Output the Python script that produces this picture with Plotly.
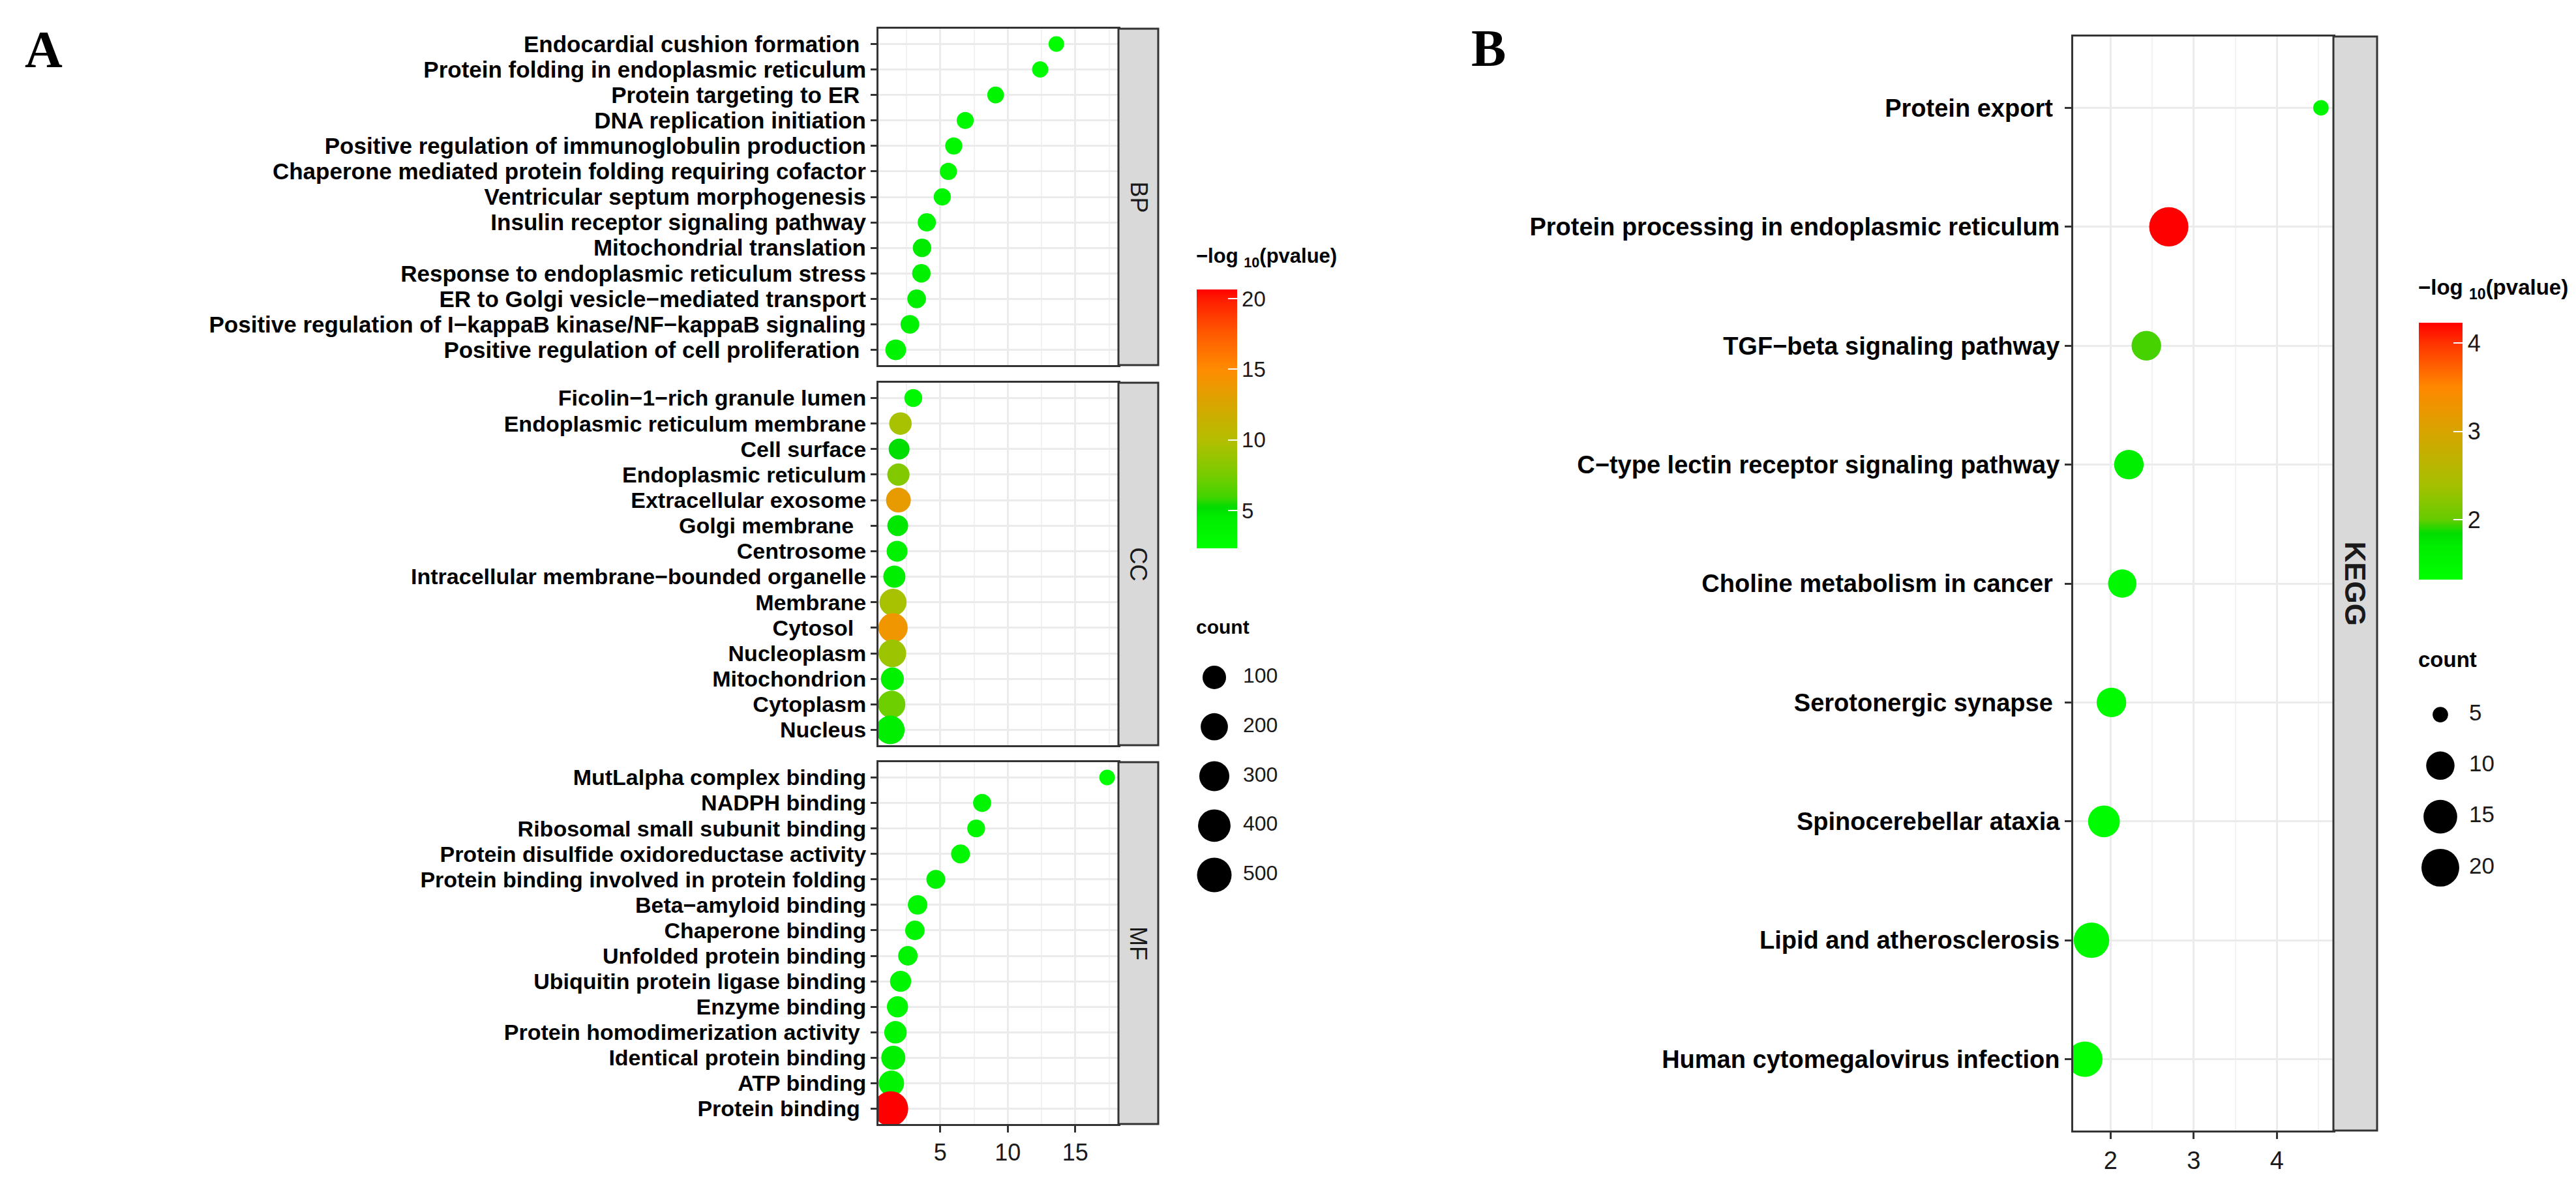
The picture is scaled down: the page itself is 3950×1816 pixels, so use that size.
import numpy as np
import plotly.graph_objects as go

W, H = 3950, 1816
FONT = "Liberation Sans, Arial, Helvetica, sans-serif"
SERIF = "Liberation Serif, Times New Roman, serif"
M = "\u2212"
NB = "\u00a0"

# ---------------- data ----------------
BP_terms = ["Endocardial cushion formation" + NB, "Protein folding in endoplasmic reticulum",
            "Protein targeting to ER" + NB, "DNA replication initiation",
            "Positive regulation of immunoglobulin production",
            "Chaperone mediated protein folding requiring cofactor",
            "Ventricular septum morphogenesis", "Insulin receptor signaling pathway",
            "Mitochondrial translation", "Response to endoplasmic reticulum stress",
            f"ER to Golgi vesicle{M}mediated transport",
            f"Positive regulation of I{M}kappaB kinase/NF{M}kappaB signaling",
            "Positive regulation of cell proliferation" + NB]
BP_x = [13.6, 12.4, 9.1, 6.85, 6.0, 5.6, 5.15, 4.0, 3.65, 3.6, 3.25, 2.75, 1.7]
BP_logp = [2.4, 3.0, 3.6, 3.2, 3.4, 3.3, 3.5, 3.6, 4.6, 4.3, 4.5, 4.0, 3.8]
BP_count = [3, 5, 7, 9, 10, 10, 10, 18, 20, 20, 22, 22, 48]

CC_terms = [f"Ficolin{M}1{M}rich granule lumen", "Endoplasmic reticulum membrane", "Cell surface",
            "Endoplasmic reticulum", "Extracellular exosome", "Golgi membrane" + NB + NB, "Centrosome",
            f"Intracellular membrane{M}bounded organelle", "Membrane", "Cytosol" + NB + NB,
            "Nucleoplasm", "Mitochondrion", "Cytoplasm", "Nucleus"]
CC_x = [3.0, 2.05, 1.95, 1.9, 1.9, 1.85, 1.8, 1.6, 1.5, 1.5, 1.45, 1.45, 1.4, 1.3]
CC_logp = [3.2, 9.5, 5.2, 8.0, 13.5, 4.8, 4.0, 4.5, 9.5, 14.0, 9.0, 4.0, 7.2, 4.5]
CC_count = [15, 79, 50, 75, 130, 50, 50, 73, 195, 273, 216, 90, 205, 249]

MF_terms = ["MutLalpha complex binding", "NADPH binding", "Ribosomal small subunit binding",
            "Protein disulfide oxidoreductase activity", "Protein binding involved in protein folding",
            f"Beta{M}amyloid binding", "Chaperone binding", "Unfolded protein binding",
            "Ubiquitin protein ligase binding", "Enzyme binding",
            "Protein homodimerization activity" + NB, "Identical protein binding", "ATP binding",
            "Protein binding" + NB]
MF_x = [17.36, 8.1, 7.66, 6.5, 4.67, 3.32, 3.12, 2.6, 2.06, 1.83, 1.68, 1.52, 1.38, 1.33]
MF_logp = [2.33, 3.5, 3.3, 3.4, 4.0, 3.3, 3.6, 3.8, 3.5, 3.4, 3.6, 4.2, 3.9, 20.65]
MF_count = [3, 17, 15, 24, 24, 31, 31, 31, 55, 55, 78, 113, 147, 520]

KEGG_terms = ["Protein export" + NB, "Protein processing in endoplasmic reticulum",
              f"TGF{M}beta signaling pathway", f"C{M}type lectin receptor signaling pathway",
              "Choline metabolism in cancer" + NB, "Serotonergic synapse" + NB,
              "Spinocerebellar ataxia", "Lipid and atherosclerosis", "Human cytomegalovirus infection"]
KEGG_x = [4.53, 2.70, 2.43, 2.22, 2.14, 2.01, 1.92, 1.77, 1.69]
KEGG_logp = [1.55, 4.23, 1.95, 1.7, 1.45, 1.4, 1.38, 1.5, 1.32]
KEGG_count = [5, 22, 11, 11, 10, 11, 13, 17, 17]

A_count_breaks = [100, 200, 300, 400, 500]
B_count_breaks = [5, 10, 15, 20]
A_color_ticks = [5, 10, 15, 20]
B_color_ticks = [2, 3, 4]
A_x_ticks = [5, 10, 15]
B_x_ticks = [2, 3, 4]


# ---------------- helpers ----------------
def fx(p):
    return p / W


def fy(p):
    return 1 - p / H


def size_A(c):
    c = np.asarray(c, dtype=float)
    return 22.5 + 32.3 * np.sqrt(np.clip((c - 2) / 558, 0, None))


def size_B(c):
    c = np.asarray(c, dtype=float)
    return 23.7 + 36.5 * np.sqrt(np.clip((c - 5) / 17, 0, None))


A_scale = [[0.0, "#00FF00"], [0.118, "#00EE00"], [0.157, "#00DD00"], [0.2, "#44D400"],
           [0.282, "#77CC00"], [0.419, "#B4BE00"], [0.555, "#D8A600"], [0.69, "#FF8C00"],
           [0.83, "#FF5A00"], [0.966, "#FF1A00"], [1.0, "#FF0000"]]
B_scale = [[0.0, "#00FF00"], [0.13, "#00EE00"], [0.18, "#00DD00"], [0.234, "#66CC00"],
           [0.37, "#A6C000"], [0.577, "#D8A400"], [0.75, "#FF8800"], [0.92, "#FF3300"],
           [1.0, "#FF0000"]]

fig = go.Figure()

A_left, A_right, A_strip_r = 1339, 1707, 1768
panels_A = [("BP", BP_terms, BP_x, BP_logp, BP_count, 36, 552, 35),
            ("CC", CC_terms, CC_x, CC_logp, CC_count, 579, 1135, 34),
            ("MF", MF_terms, MF_x, MF_logp, MF_count, 1161, 1716, 34)]

layout_axes = {}
annotations = []
shapes = []

grid_col = "#EBEBEB"
border_col = "#333333"

for i, (name, terms, xs, lp, cnt, top, bot, fsz) in enumerate(panels_A):
    k = "" if i == 0 else str(i + 1)
    fig.add_trace(go.Scatter(
        x=xs, y=terms, mode="markers",
        marker=dict(size=size_A(cnt), color=lp, coloraxis="coloraxis", line=dict(width=0),
                    sizemode="diameter", opacity=1),
        xaxis="x" + k, yaxis="y" + k, hoverinfo="x+y"))
    n = len(terms)
    last = (i == 2)
    layout_axes["xaxis" + k] = dict(
        domain=[fx(A_left), fx(A_right)], anchor="y" + k, range=[0.42, 18.2],
        tickmode="array", tickvals=A_x_ticks, showticklabels=last, ticks="outside" if last else "",
        ticklen=10, tickwidth=2.5, tickcolor=border_col,
        tickfont=dict(family=FONT, size=36, color="#1A1A1A"),
        showgrid=True, gridcolor=grid_col, gridwidth=3,
        minor=dict(tickmode="array", tickvals=[2.5, 7.5, 12.5, 17.5], showgrid=True,
                   gridcolor="#F2F2F2", gridwidth=2, ticks=""),
        showline=True, linecolor=border_col, linewidth=3, mirror=True, zeroline=False,
        automargin=False, fixedrange=True)
    layout_axes["yaxis" + k] = dict(
        domain=[fy(bot), fy(top)], anchor="x" + k, type="category",
        categoryorder="array", categoryarray=terms, range=[n - 1 + 0.6, -0.6],
        tickmode="array", tickvals=terms, ticktext=terms,
        ticks="outside", ticklen=9, tickwidth=2.5, tickcolor=border_col,
        tickfont=dict(family=FONT, size=fsz, color="#000000", weight="bold"),
        showgrid=True, gridcolor=grid_col, gridwidth=3,
        showline=True, linecolor=border_col, linewidth=3, mirror=True, zeroline=False,
        automargin=False, fixedrange=True)
    shapes.append(dict(type="rect", xref="paper", yref="paper", x0=fx(A_right), x1=fx(A_strip_r),
                       y0=fy(bot), y1=fy(top), fillcolor="#D9D9D9",
                       line=dict(color=border_col, width=3), layer="above"))
    annotations.append(dict(text=name, xref="paper", yref="paper", x=fx((A_right + A_strip_r) / 2),
                            y=fy((top + bot) / 2), xanchor="center", yanchor="middle",
                            showarrow=False, textangle=90,
                            font=dict(family=FONT, size=36, color="#1A1A1A")))

# KEGG panel
B_left, B_right, B_strip_r, B_top, B_bot = 3171, 3570, 3637, 48, 1726
fig.add_trace(go.Scatter(
    x=KEGG_x, y=KEGG_terms, mode="markers",
    marker=dict(size=size_B(KEGG_count), color=KEGG_logp, coloraxis="coloraxis2",
                line=dict(width=0), sizemode="diameter", opacity=1),
    xaxis="x4", yaxis="y4", hoverinfo="x+y"))
nK = len(KEGG_terms)
layout_axes["xaxis4"] = dict(
    domain=[fx(B_left), fx(B_right)], anchor="y4", range=[1.55, 4.68],
    tickmode="array", tickvals=B_x_ticks, ticks="outside", ticklen=10, tickwidth=2.5,
    tickcolor=border_col, tickfont=dict(family=FONT, size=38, color="#1A1A1A"),
    showgrid=True, gridcolor=grid_col, gridwidth=3,
    minor=dict(tickmode="array", tickvals=[2.5, 3.5, 4.5], showgrid=True,
               gridcolor="#F2F2F2", gridwidth=2, ticks=""),
    showline=True, linecolor=border_col, linewidth=3, mirror=True, zeroline=False,
    automargin=False, fixedrange=True)
layout_axes["yaxis4"] = dict(
    domain=[fy(B_bot), fy(B_top)], anchor="x4", type="category",
    categoryorder="array", categoryarray=KEGG_terms, range=[nK - 1 + 0.6, -0.6],
    tickmode="array", tickvals=KEGG_terms, ticktext=KEGG_terms,
    ticks="outside", ticklen=10, tickwidth=2.5, tickcolor=border_col,
    tickfont=dict(family=FONT, size=38, color="#000000", weight="bold"),
    showgrid=True, gridcolor=grid_col, gridwidth=3,
    showline=True, linecolor=border_col, linewidth=3, mirror=True, zeroline=False,
    automargin=False, fixedrange=True)
shapes.append(dict(type="rect", xref="paper", yref="paper", x0=fx(B_right), x1=fx(B_strip_r),
                   y0=fy(B_bot), y1=fy(B_top), fillcolor="#D9D9D9",
                   line=dict(color=border_col, width=3), layer="above"))
annotations.append(dict(text="KEGG", xref="paper", yref="paper", x=fx((B_right + B_strip_r) / 2),
                        y=fy((B_top + B_bot) / 2), xanchor="center", yanchor="middle",
                        showarrow=False, textangle=90,
                        font=dict(family=FONT, size=44, color="#1A1A1A", weight="bold")))


# ---------------- size legends ----------------
def size_legend(breaks, sizes, xk, x0, x1, y0, y1, fsize):
    nb = len(breaks)
    idx = list(range(nb))
    fig.add_trace(go.Scatter(x=[34] * nb, y=idx, mode="markers",
                             marker=dict(size=sizes, color="black", line=dict(width=0), opacity=1),
                             xaxis="x" + xk, yaxis="y" + xk, hoverinfo="skip"))
    fig.add_trace(go.Scatter(x=[78] * nb, y=idx, mode="text", text=[str(b) for b in breaks],
                             textposition="middle right",
                             textfont=dict(family=FONT, size=fsize, color="#1A1A1A"),
                             xaxis="x" + xk, yaxis="y" + xk, hoverinfo="skip"))
    layout_axes["xaxis" + xk] = dict(domain=[fx(x0), fx(x1)], anchor="y" + xk, range=[0, 160],
                                     visible=False, fixedrange=True)
    layout_axes["yaxis" + xk] = dict(domain=[fy(y1), fy(y0)], anchor="x" + xk,
                                     range=[nb - 0.5, -0.5], visible=False, fixedrange=True)


size_legend(A_count_breaks, size_A(A_count_breaks), "5", 1820, 1980, 993, 1372, 32)
size_legend(B_count_breaks, size_B(B_count_breaks), "6", 3700, 3860, 1049, 1362, 35)

# ---------------- legend titles & panel letters ----------------
title_txt = f"{M}log <sub>10</sub>(pvalue)"
annotations += [
    dict(text=title_txt, xref="paper", yref="paper", x=fx(1824), y=fy(387), xanchor="left",
         yanchor="middle", showarrow=False, font=dict(family=FONT, size=31, color="black", weight="bold")),
    dict(text="count", xref="paper", yref="paper", x=fx(1824), y=fy(953), xanchor="left",
         yanchor="middle", showarrow=False, font=dict(family=FONT, size=30, color="black", weight="bold")),
    dict(text=title_txt, xref="paper", yref="paper", x=fx(3698), y=fy(435), xanchor="left",
         yanchor="middle", showarrow=False, font=dict(family=FONT, size=33, color="black", weight="bold")),
    dict(text="count", xref="paper", yref="paper", x=fx(3698), y=fy(1004), xanchor="left",
         yanchor="middle", showarrow=False, font=dict(family=FONT, size=33, color="black", weight="bold")),
    dict(text="A", xref="paper", yref="paper", x=fx(28), y=fy(68), xanchor="left",
         yanchor="middle", showarrow=False, font=dict(family=SERIF, size=80, color="black", weight="bold")),
    dict(text="B", xref="paper", yref="paper", x=fx(2246), y=fy(66), xanchor="left",
         yanchor="middle", showarrow=False, font=dict(family=SERIF, size=80, color="black", weight="bold")),
]

fig.update_layout(
    width=W, height=H, margin=dict(l=0, r=0, t=0, b=0),
    paper_bgcolor="white", plot_bgcolor="white", template="none", showlegend=False,
    font=dict(family=FONT, color="black"),
    coloraxis=dict(
        colorscale=A_scale, cmin=2.33, cmax=20.65,
        colorbar=dict(x=fx(1827), xanchor="left", y=fy(436), yanchor="top",
                      len=397 / H, lenmode="fraction", thickness=62, thicknessmode="pixels",
                      xpad=0, ypad=0, outlinewidth=0, tickmode="array", tickvals=A_color_ticks,
                      ticks="inside", ticklen=14, tickcolor="white", tickwidth=2,
                      tickfont=dict(family=FONT, size=33, color="#1A1A1A"))),
    coloraxis2=dict(
        colorscale=B_scale, cmin=1.32, cmax=4.23,
        colorbar=dict(x=fx(3701), xanchor="left", y=fy(487), yanchor="top",
                      len=394 / H, lenmode="fraction", thickness=67, thicknessmode="pixels",
                      xpad=0, ypad=0, outlinewidth=0, tickmode="array", tickvals=B_color_ticks,
                      ticks="inside", ticklen=14, tickcolor="white", tickwidth=2,
                      tickfont=dict(family=FONT, size=36, color="#1A1A1A"))),
    annotations=annotations, shapes=shapes,
    **layout_axes,
)

fig.write_html("out.html")
